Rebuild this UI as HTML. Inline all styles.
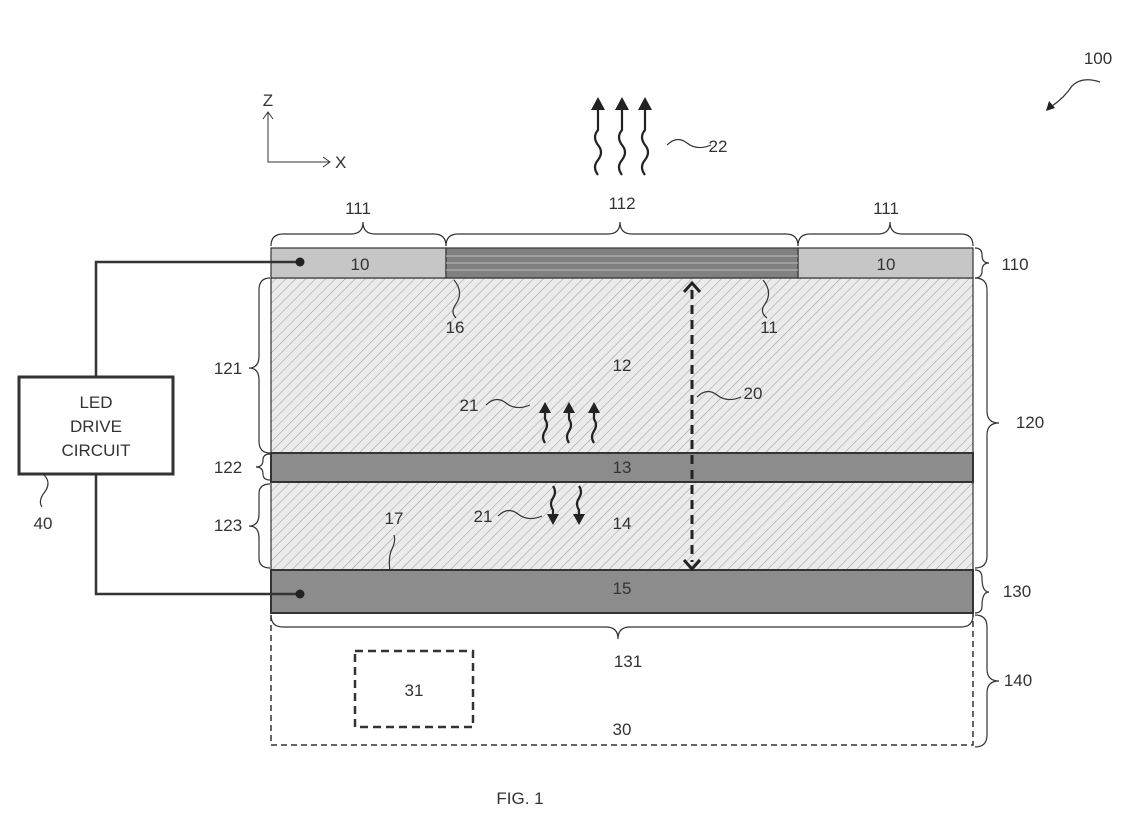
<!DOCTYPE html>
<html><head><meta charset="utf-8"><style>
html,body{margin:0;padding:0;background:#fff;}
svg{display:block;font-family:"Liberation Sans",Arial,sans-serif;}
text{fill:#333;font-size:17px;}
</style></head><body>
<svg width="1140" height="837" viewBox="0 0 1140 837" xmlns="http://www.w3.org/2000/svg">
<defs>
<pattern id="h" width="7" height="7" patternUnits="userSpaceOnUse" patternTransform="rotate(45)">
<rect width="7" height="7" fill="#ebebeb"/><line x1="0" y1="0" x2="0" y2="7" stroke="#a0a0a0" stroke-width="1.1"/>
</pattern>
</defs>
<g fill="none" stroke="#333" stroke-width="1.2">
<rect x="271" y="278" width="702" height="175" fill="url(#h)"/>
<rect x="271" y="482" width="702" height="88" fill="url(#h)"/>
<rect x="271" y="453" width="702" height="29" fill="#8c8c8c" stroke-width="2"/>
<rect x="271" y="570" width="702" height="43" fill="#8c8c8c" stroke-width="2"/>
<rect x="271" y="248" width="175" height="30" fill="#c6c6c6"/>
<rect x="798" y="248" width="175" height="30" fill="#c6c6c6"/>
<rect x="446" y="248" width="352" height="30" fill="#808080"/>
<line x1="446" y1="256" x2="798" y2="256" stroke="#b0b0b0"/>
<line x1="446" y1="263" x2="798" y2="263" stroke="#b0b0b0"/>
<line x1="446" y1="270" x2="798" y2="270" stroke="#b0b0b0"/>
<rect x="271" y="613" width="702" height="132" stroke-dasharray="6,4" stroke-width="1.5"/>
<rect x="355" y="651" width="118" height="76" stroke-dasharray="8,5" stroke-width="2.5"/>
<rect x="19" y="377" width="154" height="97" stroke-width="3" fill="#fff"/>
<path d="M300,262 H96 V377 M96,474 V594 H300" stroke-width="2.5"/>
<path d="M271,246 q0,-12 12,-12 h68 q12,0 12,-12 q0,12 12,12 h59 q12,0 12,12"/>
<path d="M446,246 q0,-12 12,-12 h150 q12,0 12,-12 q0,12 12,12 h154 q12,0 12,12"/>
<path d="M798,246 q0,-12 12,-12 h68 q12,0 12,-12 q0,12 12,12 h59 q12,0 12,12"/>
<path d="M271,615 q0,12 12,12 h323 q12,0 12,12 q0,-12 12,-12 h331 q12,0 12,-12"/>
<path d="M975,248 q7,0 7,7 q0,8 7,8 q-7,0 -7,8 q0,7 -7,7"/>
<path d="M975,278 q12,0 12,12 v121 q0,12 12,12 q-12,0 -12,12 v121 q0,12 -12,12"/>
<path d="M975,570 q7,0 7,8 q0,14 7,14 q-7,0 -7,14 q0,7 -7,7"/>
<path d="M975,615 q12,0 12,12 v42 q0,12 12,12 q-12,0 -12,12 v42 q0,12 -12,12"/>
<path d="M270,278 q-11,0 -11,12 v66 q0,12 -10,12 q10,0 10,12 v61 q0,12 11,12"/>
<path d="M270,454 q-7,0 -7,6 q0,7 -7,7 q7,0 7,7 q0,6 7,6"/>
<path d="M270,484 q-11,0 -11,10 v20 q0,12 -10,12 q10,0 10,12 v20 q0,10 11,10"/>
<path d="M454,280 q10,12 2,24 q-6,8 0,14"/>
<path d="M763,280 q10,12 2,24 q-6,8 2,14"/>
<path d="M44,475 q8,8 0,18 q-6,8 -2,14"/>
<path d="M390,571 q-2,-14 2,-22 q4,-8 2,-14"/>
<path d="M667,145 q10,-10 20,-2 q10,8 24,2"/>
<path d="M697,397 q10,-10 20,-2 q10,8 24,2"/>
<path d="M486,405 q10,-10 20,-2 q10,8 24,2"/>
<path d="M498,516 q10,-10 20,-2 q10,8 24,2"/>
<path d="M1052,106 q12,-8 20,-20 q10,-10 28,-4"/>
<path d="M268,113 V162 H330" stroke-width="1"/>
<path d="M263,119 L268,112 L273,119 M323,157 L330,162 L323,167" stroke-width="1"/>
<line x1="692" y1="290" x2="692" y2="562" stroke="#222" stroke-width="3" stroke-dasharray="9,6"/>
<path d="M684,292 L692,283 L700,292 M684,560 L692,569 L700,560" stroke="#222" stroke-width="3"/>
<g stroke="#222" stroke-width="2.2">
<path d="M598,175 q-6,-8 0,-15 q6,-8 0,-15 q-6,-8 0,-15 v-20"/>
<path d="M622,175 q-6,-8 0,-15 q6,-8 0,-15 q-6,-8 0,-15 v-20"/>
<path d="M645,175 q-6,-8 0,-15 q6,-8 0,-15 q-6,-8 0,-15 v-20"/>
<path d="M545,443 q-4,-6 0,-12 q4,-6 0,-12 v-8"/>
<path d="M569,443 q-4,-6 0,-12 q4,-6 0,-12 v-8"/>
<path d="M594,443 q-4,-6 0,-12 q4,-6 0,-12 v-8"/>
<path d="M553,486 q4,6 0,12 q-4,6 0,12 v6"/>
<path d="M579,486 q4,6 0,12 q-4,6 0,12 v6"/>
</g>
<g fill="#222" stroke="none">
<path d="M1046,111 l3,-10 l6,7z"/>
<path d="M591,110 l7,-13 l7,13z"/><path d="M615,110 l7,-13 l7,13z"/><path d="M638,110 l7,-13 l7,13z"/>
<path d="M539,413 l6,-11 l6,11z"/><path d="M563,413 l6,-11 l6,11z"/><path d="M588,413 l6,-11 l6,11z"/>
<path d="M547,514 l6,11 l6,-11z"/><path d="M573,514 l6,11 l6,-11z"/>
</g>
</g>
<circle cx="300" cy="262" r="4.5" fill="#222"/>
<circle cx="300" cy="594" r="4.5" fill="#222"/>
<g text-anchor="middle">
<text x="1098" y="64">100</text>
<text x="268" y="106">Z</text>
<text x="335" y="168" text-anchor="start">X</text>
<text x="718" y="152">22</text>
<text x="358" y="214">111</text>
<text x="622" y="209">112</text>
<text x="886" y="214">111</text>
<text x="360" y="270">10</text>
<text x="886" y="270">10</text>
<text x="1015" y="270">110</text>
<text x="455" y="333">16</text>
<text x="769" y="333">11</text>
<text x="622" y="371">12</text>
<text x="228" y="374">121</text>
<text x="753" y="399">20</text>
<text x="1030" y="428">120</text>
<text x="469" y="411">21</text>
<text x="96" y="408">LED</text>
<text x="96" y="432">DRIVE</text>
<text x="96" y="456">CIRCUIT</text>
<text x="622" y="473">13</text>
<text x="228" y="473">122</text>
<text x="394" y="524">17</text>
<text x="483" y="522">21</text>
<text x="622" y="529">14</text>
<text x="228" y="531">123</text>
<text x="43" y="529">40</text>
<text x="622" y="594">15</text>
<text x="1017" y="597">130</text>
<text x="628" y="667">131</text>
<text x="414" y="696">31</text>
<text x="1018" y="686">140</text>
<text x="622" y="735">30</text>
<text x="520" y="804">FIG. 1</text>
</g>
</svg>
</body></html>
